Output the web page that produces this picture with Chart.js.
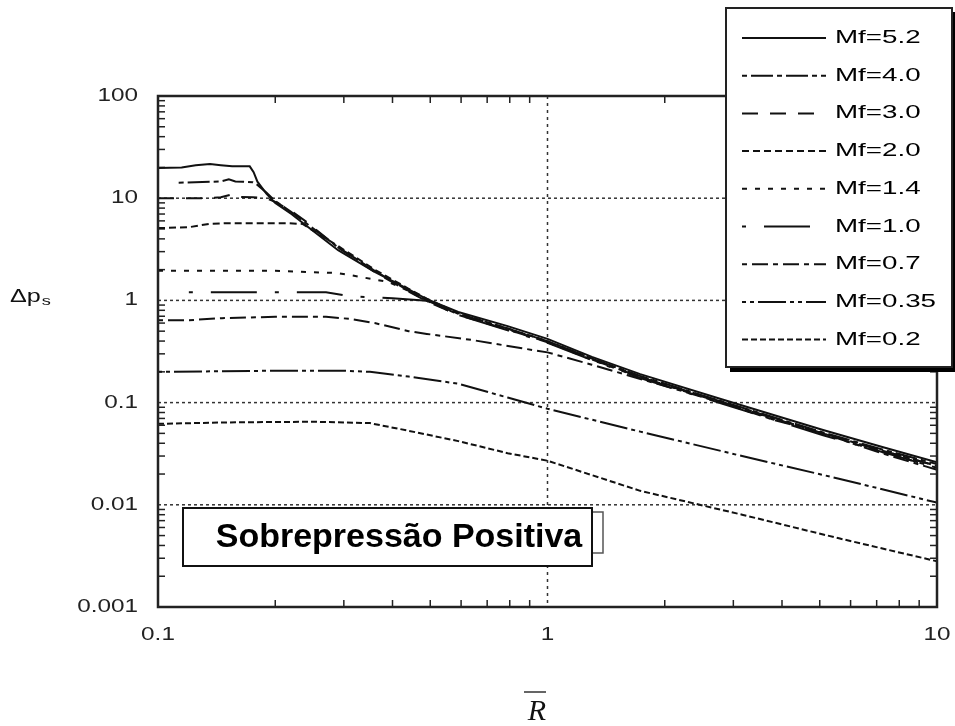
<!DOCTYPE html>
<html>
<head>
<meta charset="utf-8">
<script src="https://cdn.jsdelivr.net/npm/chart.js@4/dist/chart.umd.min.js"></script>
<style>
  body { margin: 0; background: #fff; }
  #wrap { width: 955px; height: 726px; }
</style>
</head>
<body>
<div id="wrap"><canvas id="blastChart" width="955" height="726"></canvas></div>
<script>
// Scaled distance R (x) vs positive overpressure (y), one array of [R, dps] per Mach number
const seriesLabels = ["Mf=5.2", "Mf=4.0", "Mf=3.0", "Mf=2.0", "Mf=1.4", "Mf=1.0", "Mf=0.7", "Mf=0.35", "Mf=0.2"];

const mf52 = [[0.1,19.7],[0.115,20],[0.125,21],[0.136,21.6],[0.145,21],[0.155,20.5],[0.172,20.5],[0.176,18],[0.18,14.5],[0.19,11],[0.2,9],[0.22,7],[0.24,5.4],[0.29,3.1],[0.36,1.9],[0.44,1.28],[0.49,1.03],[0.59,0.77],[0.79,0.56],[1,0.42],[1.3,0.28],[1.73,0.19],[2.8,0.108],[5.1,0.054],[7.2,0.037],[10,0.026]];
const mf40 = [[0.113,14.2],[0.13,14.4],[0.145,14.6],[0.152,15.3],[0.158,14.6],[0.165,14.5],[0.175,14.3],[0.18,13.5],[0.19,11.3],[0.2,9.4],[0.22,7.3],[0.24,5.7],[0.29,3.3],[0.36,1.95],[0.44,1.24],[0.49,1.0],[0.59,0.74],[0.79,0.53],[1,0.4],[1.3,0.27],[1.73,0.182],[2.8,0.103],[5.1,0.051],[7.2,0.035],[10,0.025]];
const mf30 = [[0.1,10],[0.13,10],[0.145,10.2],[0.155,10.9],[0.162,10.3],[0.175,10.2],[0.19,10],[0.2,9.2],[0.22,7.5],[0.24,5.9],[0.29,3.3],[0.36,1.9],[0.44,1.22],[0.49,0.98],[0.59,0.72],[0.79,0.52],[1,0.39],[1.3,0.265],[1.73,0.178],[2.8,0.1],[5.1,0.05],[7.2,0.034],[10,0.024]];
const mf20 = [[0.1,5.1],[0.12,5.2],[0.135,5.6],[0.15,5.7],[0.215,5.7],[0.235,5.6],[0.26,4.4],[0.29,3.4],[0.36,2.0],[0.44,1.3],[0.49,1.04],[0.59,0.75],[0.79,0.53],[1,0.4],[1.3,0.27],[1.73,0.18],[2.8,0.102],[5.1,0.05],[7.2,0.034],[10,0.024]];
const mf14 = [[0.1,1.95],[0.2,1.95],[0.29,1.85],[0.33,1.7],[0.36,1.6],[0.39,1.52],[0.44,1.24],[0.49,0.99],[0.59,0.73],[0.79,0.52],[1,0.39],[1.3,0.262],[1.73,0.176],[2.8,0.1],[5.1,0.049],[7.2,0.033],[10,0.023]];
const mf10 = [[0.12,1.2],[0.2,1.2],[0.27,1.2],[0.31,1.1],[0.4,1.05],[0.49,0.99],[0.59,0.72],[0.79,0.51],[1,0.385],[1.3,0.26],[1.73,0.174],[2.8,0.098],[5.1,0.048],[7.2,0.033],[10,0.023]];
const mf07 = [[0.1,0.64],[0.12,0.64],[0.146,0.67],[0.2,0.69],[0.27,0.69],[0.31,0.66],[0.36,0.6],[0.44,0.5],[0.49,0.47],[0.64,0.41],[0.86,0.34],[1,0.31],[1.3,0.235],[1.57,0.19],[2.8,0.1],[3.8,0.068],[5.1,0.05],[7.2,0.032],[10,0.022]];
const mf035 = [[0.1,0.2],[0.2,0.205],[0.3,0.205],[0.35,0.2],[0.44,0.18],[0.59,0.153],[0.79,0.112],[1,0.087],[1.73,0.052],[3.16,0.03],[5.6,0.018],[10,0.0105]];
const mf02 = [[0.1,0.062],[0.15,0.064],[0.25,0.065],[0.35,0.063],[0.44,0.053],[0.59,0.042],[0.79,0.032],[1,0.027],[1.73,0.0137],[3.16,0.008],[5.6,0.0047],[10,0.0028]];

const xTicks = [0.1, 1, 10];
const xTickLabels = ["0.1", "1", "10"];
const yTicks = [0.001, 0.01, 0.1, 1, 10, 100];
const yTickLabels = ["0.001", "0.01", "0.1", "1", "10", "100"];
const boxText = "Sobrepressão Positiva";

const allSeries = [mf52, mf40, mf30, mf20, mf14, mf10, mf07, mf035, mf02];
// line patterns, same order as the legend
const dashes = [[], [5,4,22,4], [16,12], [7,4], [5,8], [4,18,46,18], [5,5,16,5], [4,4,4,4,28,4], [6,3]];

const FONT = "'Liberation Sans', Arial, sans-serif";

const datasets = allSeries.map((s, i) => ({
  label: seriesLabels[i],
  data: s.map(p => ({ x: p[0], y: p[1] })),
  borderColor: "#111",
  borderWidth: 2,
  borderDash: dashes[i],
  pointRadius: 0,
  tension: 0,
  fill: false,
}));

function seg(ctx, x1, y1, x2, y2) {
  ctx.beginPath();
  ctx.moveTo(x1, y1);
  ctx.lineTo(x2, y2);
  ctx.stroke();
}

// the source picture is stretched sideways, so text gets a horizontal scale
function wideText(ctx, txt, x, y, sx) {
  ctx.save();
  ctx.translate(x, y);
  ctx.scale(sx, 1);
  ctx.fillText(txt, 0, 0);
  ctx.restore();
}

const decor = {
  id: "decor",
  beforeDatasetsDraw(chart) {
    const { ctx, chartArea: a, scales: { x, y } } = chart;
    ctx.save();
    // dotted grid at the inner decades
    ctx.strokeStyle = "#333";
    ctx.lineWidth = 1.5;
    ctx.setLineDash([3, 3]);
    yTicks.slice(1, -1).forEach(v => {
      const py = y.getPixelForValue(v);
      seg(ctx, a.left, py, a.right, py);
    });
    ctx.setLineDash([3, 4]);
    xTicks.slice(1, -1).forEach(v => {
      const px = x.getPixelForValue(v);
      seg(ctx, px, a.top, px, a.bottom);
    });
    ctx.setLineDash([]);
    // minor ticks on all four sides
    ctx.strokeStyle = "#222";
    ctx.lineWidth = 1.5;
    for (let d = 0; d < yTicks.length - 1; d++) {
      for (let m = 2; m < 10; m++) {
        const py = y.getPixelForValue(yTicks[d] * m);
        seg(ctx, a.left, py, a.left + 7, py);
        seg(ctx, a.right, py, a.right - 7, py);
      }
    }
    for (let d = 0; d < xTicks.length - 1; d++) {
      for (let m = 2; m < 10; m++) {
        const px = x.getPixelForValue(xTicks[d] * m);
        seg(ctx, px, a.bottom, px, a.bottom - 7);
        seg(ctx, px, a.top, px, a.top + 7);
      }
    }
    ctx.restore();
  },
  afterDatasetsDraw(chart) {
    const { ctx, chartArea: a, scales: { x, y } } = chart;
    ctx.save();
    // frame
    ctx.strokeStyle = "#222";
    ctx.lineWidth = 2.5;
    ctx.strokeRect(a.left, a.top, a.right - a.left, a.bottom - a.top);

    // tick labels
    ctx.fillStyle = "#222";
    ctx.font = "18px " + FONT;
    ctx.textBaseline = "middle";
    ctx.textAlign = "right";
    yTicks.forEach((v, i) => wideText(ctx, yTickLabels[i], a.left - 20, y.getPixelForValue(v), 1.35));
    ctx.textAlign = "center";
    xTicks.forEach((v, i) => wideText(ctx, xTickLabels[i], x.getPixelForValue(v), a.bottom + 28, 1.35));

    // annotation box (with a smaller one peeking out behind)
    ctx.fillStyle = "#fff";
    ctx.strokeStyle = "#555";
    ctx.lineWidth = 1.5;
    ctx.fillRect(560, 512, 43, 41);
    ctx.strokeRect(560, 512, 43, 41);
    ctx.strokeStyle = "#111";
    ctx.lineWidth = 2;
    ctx.fillRect(183, 508, 409, 58);
    ctx.strokeRect(183, 508, 409, 58);
    ctx.fillStyle = "#000";
    ctx.font = "bold 33px " + FONT;
    ctx.textAlign = "center";
    ctx.textBaseline = "middle";
    wideText(ctx, boxText, 399, 538, 1.03);

    // legend box with drop shadow
    const lx = 726, ly = 8, lw = 226, lh = 359;
    ctx.fillStyle = "#000";
    ctx.fillRect(lx + 4, ly + lh, lw, 5);
    ctx.fillRect(lx + lw, ly + 4, 5, lh + 1);
    ctx.fillStyle = "#fff";
    ctx.fillRect(lx, ly, lw, lh);
    ctx.strokeStyle = "#222";
    ctx.lineWidth = 2;
    ctx.strokeRect(lx, ly, lw, lh);
    ctx.font = "18.5px " + FONT;
    ctx.textAlign = "left";
    ctx.textBaseline = "middle";
    chart.data.datasets.forEach((ds, i) => {
      const ry = 38 + i * 37.7;
      ctx.strokeStyle = "#111";
      ctx.lineWidth = 2;
      ctx.setLineDash(ds.borderDash);
      seg(ctx, 742, ry, 826, ry);
      ctx.setLineDash([]);
      ctx.fillStyle = "#000";
      wideText(ctx, ds.label, 835, ry, 1.5);
    });

    // axis titles
    ctx.fillStyle = "#111";
    ctx.font = "18px " + FONT;
    ctx.textBaseline = "alphabetic";
    wideText(ctx, "\u0394p", 10, 302, 1.4);
    const w = ctx.measureText("\u0394p").width * 1.4;
    ctx.font = "13px " + FONT;
    wideText(ctx, "s", 10 + w + 1, 305, 1.4);

    ctx.font = "italic 30px 'Liberation Serif', 'Times New Roman', serif";
    ctx.textAlign = "center";
    ctx.fillText("R", 537, 720);
    ctx.strokeStyle = "#111";
    ctx.lineWidth = 1.3;
    seg(ctx, 524, 692, 546, 692);
    ctx.restore();
  },
};

document.addEventListener("DOMContentLoaded", function () {
  const ctx = document.getElementById("blastChart").getContext("2d");
  new Chart(ctx, {
    type: "line",
    data: { datasets: datasets },
    options: {
      responsive: false,
      animation: false,
      layout: { padding: { left: 0, top: 96, right: 18, bottom: 79 } },
      scales: {
        x: {
          type: "logarithmic",
          min: 0.1,
          max: 10,
          afterBuildTicks: s => { s.ticks = xTicks.map(v => ({ value: v })); },
          afterFit: s => { s.height = 40; s.paddingLeft = 0; s.paddingRight = 0; },
          ticks: { display: false },
          grid: { display: false, drawTicks: false },
          border: { display: false },
        },
        y: {
          type: "logarithmic",
          min: 0.001,
          max: 100,
          afterBuildTicks: s => { s.ticks = yTicks.map(v => ({ value: v })); },
          afterFit: s => { s.width = 158; },
          ticks: { display: false },
          grid: { display: false, drawTicks: false },
          border: { display: false },
        },
      },
      plugins: {
        legend: { display: false },
        tooltip: { enabled: false },
      },
    },
    plugins: [decor],
  });
});
</script>
</body>
</html>
